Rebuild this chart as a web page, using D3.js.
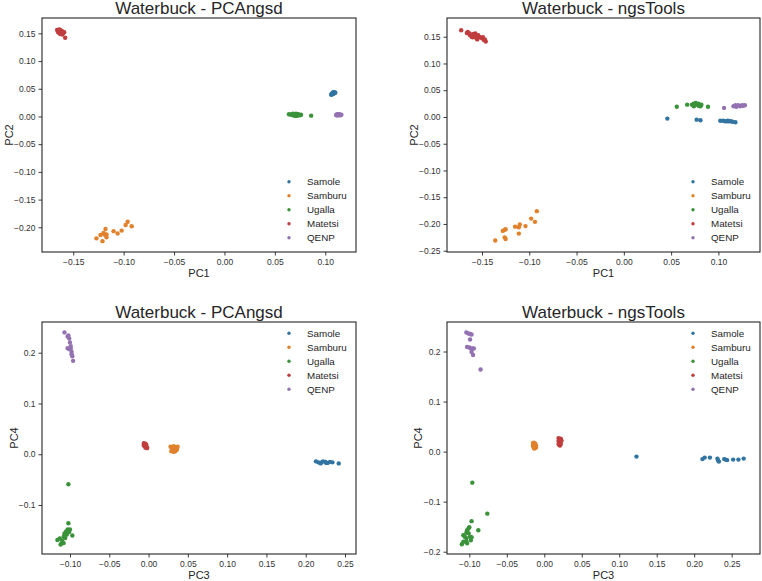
<!DOCTYPE html>
<html>
<head>
<meta charset="utf-8">
<script src="https://cdnjs.cloudflare.com/ajax/libs/d3/7.8.5/d3.min.js"></script>
<style>
  body { margin: 0; background: #fff; }
  text { font-family: "Liberation Sans", Arial, sans-serif; }
</style>
</head>
<body>
<div class="visualization"></div>
<script>
'use strict';

// populations, in legend order, and their colours
var populations = ['Samole', 'Samburu', 'Ugalla', 'Matetsi', 'QENP'];
var popColors   = ['#3274a1', '#e1812c', '#3a923a', '#c03d3e', '#9372b2'];

// PCAngsd, PC1 vs PC2
var pcangsd12Samole  = [[0.106,0.039],[0.107,0.041],[0.108,0.043],[0.109,0.044],[0.107,0.040],[0.108,0.041],[0.109,0.042],[0.106,0.040],[0.108,0.044],[0.110,0.043],[0.107,0.042]];
var pcangsd12Samburu = [[-0.127,-0.220],[-0.123,-0.214],[-0.121,-0.225],[-0.120,-0.210],[-0.118,-0.203],[-0.117,-0.218],[-0.117,-0.213],[-0.119,-0.213],[-0.110,-0.207],[-0.106,-0.211],[-0.102,-0.206],[-0.098,-0.196],[-0.096,-0.190],[-0.092,-0.198]];
var pcangsd12Ugalla  = [[0.064,0.004],[0.066,0.003],[0.067,0.004],[0.068,0.002],[0.069,0.004],[0.070,0.001],[0.070,0.003],[0.071,0.005],[0.072,0.002],[0.073,0.004],[0.074,0.003],[0.075,0.002],[0.076,0.003],[0.068,0.005],[0.072,0.001],[0.086,0.0015]];
var pcangsd12Matetsi = [[-0.166,0.156],[-0.165,0.154],[-0.164,0.157],[-0.163,0.153],[-0.162,0.155],[-0.164,0.151],[-0.162,0.152],[-0.161,0.154],[-0.163,0.149],[-0.161,0.148],[-0.165,0.152],[-0.160,0.150],[-0.159,0.152],[-0.163,0.156],[-0.158,0.142]];
var pcangsd12Qenp    = [[0.111,0.003],[0.112,0.002],[0.113,0.004],[0.114,0.003],[0.112,0.004],[0.115,0.002],[0.113,0.002],[0.111,0.002],[0.114,0.004],[0.116,0.003]];

// ngsTools, PC1 vs PC2
var ngstools12Samole  = [[0.046,-0.003],[0.077,-0.005],[0.081,-0.006],[0.102,-0.007],[0.105,-0.007],[0.107,-0.008],[0.109,-0.008],[0.111,-0.008],[0.113,-0.008],[0.115,-0.009],[0.118,-0.010],[0.110,-0.007]];
var ngstools12Samburu = [[-0.136,-0.231],[-0.128,-0.213],[-0.126,-0.211],[-0.125,-0.210],[-0.126,-0.225],[-0.125,-0.228],[-0.115,-0.205],[-0.111,-0.206],[-0.110,-0.201],[-0.111,-0.218],[-0.104,-0.204],[-0.098,-0.190],[-0.094,-0.196],[-0.092,-0.176]];
var ngstools12Ugalla  = [[0.056,0.019],[0.067,0.023],[0.072,0.023],[0.074,0.025],[0.075,0.022],[0.077,0.024],[0.079,0.025],[0.081,0.020],[0.082,0.023],[0.074,0.020],[0.079,0.021],[0.076,0.026],[0.089,0.019]];
var ngstools12Matetsi = [[-0.172,0.162],[-0.166,0.157],[-0.165,0.159],[-0.163,0.156],[-0.163,0.153],[-0.161,0.150],[-0.159,0.155],[-0.157,0.156],[-0.156,0.151],[-0.155,0.145],[-0.154,0.153],[-0.152,0.149],[-0.150,0.147],[-0.149,0.149],[-0.148,0.144],[-0.146,0.141],[-0.147,0.145],[-0.160,0.149],[-0.156,0.147]];
var ngstools12Qenp    = [[0.106,0.017],[0.116,0.020],[0.118,0.022],[0.119,0.020],[0.121,0.022],[0.123,0.020],[0.125,0.022],[0.126,0.021],[0.128,0.022],[0.119,0.019]];

// PCAngsd, PC3 vs PC4
var pcangsd34Samole  = [[0.213,-0.014],[0.216,-0.016],[0.219,-0.018],[0.222,-0.014],[0.225,-0.015],[0.228,-0.017],[0.231,-0.015],[0.234,-0.016],[0.220,-0.016],[0.226,-0.017],[0.242,-0.018]];
var pcangsd34Samburu = [[0.028,0.015],[0.030,0.013],[0.032,0.016],[0.034,0.014],[0.036,0.012],[0.031,0.010],[0.033,0.008],[0.035,0.010],[0.029,0.006],[0.032,0.005],[0.037,0.015],[0.030,0.011],[0.034,0.006],[0.036,0.009],[0.033,0.013]];
var pcangsd34Ugalla  = [[-0.116,-0.169],[-0.113,-0.166],[-0.111,-0.176],[-0.110,-0.170],[-0.108,-0.162],[-0.108,-0.175],[-0.107,-0.156],[-0.106,-0.159],[-0.105,-0.152],[-0.104,-0.158],[-0.103,-0.148],[-0.102,-0.136],[-0.101,-0.153],[-0.100,-0.148],[-0.097,-0.160],[-0.112,-0.178],[-0.106,-0.165],[-0.102,-0.059]];
var pcangsd34Matetsi = [[-0.006,0.022],[-0.005,0.020],[-0.004,0.018],[-0.006,0.017],[-0.003,0.015],[-0.004,0.013],[-0.002,0.014],[-0.005,0.016],[-0.003,0.019],[-0.006,0.019],[-0.002,0.012],[-0.004,0.021]];
var pcangsd34Qenp    = [[-0.107,0.240],[-0.103,0.232],[-0.102,0.234],[-0.101,0.228],[-0.100,0.220],[-0.099,0.213],[-0.103,0.209],[-0.101,0.207],[-0.099,0.208],[-0.098,0.202],[-0.098,0.197],[-0.097,0.193],[-0.096,0.184]];

// ngsTools, PC3 vs PC4
var ngstools34Samole  = [[0.123,-0.010],[0.211,-0.015],[0.214,-0.012],[0.221,-0.012],[0.231,-0.014],[0.232,-0.018],[0.242,-0.016],[0.244,-0.017],[0.252,-0.016],[0.259,-0.016],[0.266,-0.014],[0.240,-0.015],[0.233,-0.020]];
var ngstools34Samburu = [[-0.015,0.017],[-0.014,0.015],[-0.013,0.013],[-0.015,0.011],[-0.012,0.009],[-0.014,0.007],[-0.013,0.010],[-0.011,0.012],[-0.012,0.016],[-0.014,0.018],[-0.011,0.008],[-0.013,0.006],[-0.015,0.014]];
var ngstools34Ugalla  = [[-0.110,-0.185],[-0.108,-0.167],[-0.106,-0.170],[-0.104,-0.162],[-0.104,-0.173],[-0.103,-0.157],[-0.101,-0.163],[-0.100,-0.151],[-0.099,-0.170],[-0.098,-0.177],[-0.097,-0.171],[-0.104,-0.180],[-0.103,-0.183],[-0.108,-0.180],[-0.101,-0.153],[-0.097,-0.139],[-0.088,-0.157],[-0.076,-0.124],[-0.096,-0.062]];
var ngstools34Matetsi = [[0.019,0.027],[0.020,0.025],[0.021,0.023],[0.022,0.026],[0.019,0.021],[0.020,0.019],[0.022,0.020],[0.021,0.017],[0.019,0.015],[0.020,0.013],[0.022,0.015],[0.021,0.012],[0.023,0.022]];
var ngstools34Qenp    = [[-0.104,0.238],[-0.101,0.236],[-0.099,0.235],[-0.097,0.234],[-0.099,0.224],[-0.103,0.209],[-0.100,0.208],[-0.098,0.206],[-0.096,0.206],[-0.094,0.206],[-0.097,0.199],[-0.095,0.193],[-0.085,0.164]];

// tick values
var ticksPC12x     = [-0.15, -0.10, -0.05, 0.00, 0.05, 0.10];
var ticksPCAngsd2y = [-0.20, -0.15, -0.10, -0.05, 0.00, 0.05, 0.10, 0.15];
var ticksNgsTools2y = [-0.25, -0.20, -0.15, -0.10, -0.05, 0.00, 0.05, 0.10, 0.15];
var ticksPC34x     = [-0.10, -0.05, 0.00, 0.05, 0.10, 0.15, 0.20, 0.25];
var ticksPCAngsd4y = [-0.1, 0.0, 0.1, 0.2];
var ticksNgsTools4y = [-0.2, -0.1, 0.0, 0.1, 0.2];

var panels = [
  { title: 'Waterbuck - PCAngsd', xLabel: 'PC1', yLabel: 'PC2',
    box: [42, 18, 356, 252], xDomain: [-0.181, 0.1305], yDomain: [-0.2446, 0.1777],
    xTicks: ticksPC12x, yTicks: ticksPCAngsd2y, yFmt: '.2f', yLabelX: 13, legendTop: false,
    series: [pcangsd12Samole, pcangsd12Samburu, pcangsd12Ugalla, pcangsd12Matetsi, pcangsd12Qenp] },
  { title: 'Waterbuck - ngsTools', xLabel: 'PC1', yLabel: 'PC2',
    box: [447, 18, 760, 252], xDomain: [-0.187, 0.144], yDomain: [-0.2524, 0.185],
    xTicks: ticksPC12x, yTicks: ticksNgsTools2y, yFmt: '.2f', yLabelX: 418, legendTop: false,
    series: [ngstools12Samole, ngstools12Samburu, ngstools12Ugalla, ngstools12Matetsi, ngstools12Qenp] },
  { title: 'Waterbuck - PCAngsd', xLabel: 'PC3', yLabel: 'PC4',
    box: [42, 322, 356, 554], xDomain: [-0.1356, 0.264], yDomain: [-0.1965, 0.2605],
    xTicks: ticksPC34x, yTicks: ticksPCAngsd4y, yFmt: '.1f', yLabelX: 18, legendTop: true,
    series: [pcangsd34Samole, pcangsd34Samburu, pcangsd34Ugalla, pcangsd34Matetsi, pcangsd34Qenp] },
  { title: 'Waterbuck - ngsTools', xLabel: 'PC3', yLabel: 'PC4',
    box: [447, 322, 760, 554], xDomain: [-0.1298, 0.2878], yDomain: [-0.2046, 0.259],
    xTicks: ticksPC34x, yTicks: ticksNgsTools4y, yFmt: '.1f', yLabelX: 422, legendTop: true,
    series: [ngstools34Samole, ngstools34Samburu, ngstools34Ugalla, ngstools34Matetsi, ngstools34Qenp] }
];

var ink = '#262626';

var svg = d3.select('.visualization')
  .append('svg')
  .attr('width', 762)
  .attr('height', 581);

panels.forEach(function(p){
  var left = p.box[0], top = p.box[1], right = p.box[2], bottom = p.box[3];

  var x = d3.scaleLinear().domain(p.xDomain).range([left, right]);
  var y = d3.scaleLinear().domain(p.yDomain).range([bottom, top]);

  var g = svg.append('g');

  // points, one group per population
  p.series.forEach(function(pts, i){
    g.append('g').selectAll('circle')
      .data(pts)
      .enter().append('circle')
      .attr('cx', function(d){ return x(d[0]); })
      .attr('cy', function(d){ return y(d[1]); })
      .attr('r', 2.2)
      .attr('fill', popColors[i]);
  });

  // axes
  var xAxis = g.append('g')
    .attr('transform', 'translate(0,' + bottom + ')')
    .call(d3.axisBottom(x).tickValues(p.xTicks).tickFormat(d3.format('.2f'))
      .tickSize(3.5).tickPadding(3).tickSizeOuter(0));
  var yAxis = g.append('g')
    .attr('transform', 'translate(' + left + ',0)')
    .call(d3.axisLeft(y).tickValues(p.yTicks).tickFormat(d3.format(p.yFmt))
      .tickSize(3.5).tickPadding(3).tickSizeOuter(0));

  [xAxis, yAxis].forEach(function(a){
    a.select('.domain').remove();
    a.selectAll('line').attr('stroke', ink).attr('stroke-width', 0.9);
    a.selectAll('text').attr('fill', '#333').style('font-size', '8.5px')
      .style('font-family', '"Liberation Sans", Arial, sans-serif');
  });

  // frame
  g.append('rect')
    .attr('x', left).attr('y', top)
    .attr('width', right - left).attr('height', bottom - top)
    .attr('fill', 'none')
    .attr('stroke', ink)
    .attr('stroke-width', 1.1);

  // title and labels
  g.append('text')
    .attr('x', (left + right) / 2)
    .attr('y', top - 4)
    .attr('text-anchor', 'middle')
    .attr('fill', ink)
    .style('font-size', '17px')
    .text(p.title);

  g.append('text')
    .attr('x', (left + right) / 2)
    .attr('y', bottom + 25)
    .attr('text-anchor', 'middle')
    .attr('fill', ink)
    .style('font-size', '11px')
    .text(p.xLabel);

  g.append('text')
    .attr('transform', 'translate(' + p.yLabelX + ',' + ((top + bottom) / 2) + ') rotate(-90)')
    .attr('text-anchor', 'middle')
    .attr('fill', ink)
    .style('font-size', '11px')
    .text(p.yLabel);

  // legend
  var legY0 = p.legendTop ? top + 11.3 : bottom - 14.3 - 4 * 14;
  var leg = g.append('g').selectAll('g')
    .data(populations)
    .enter().append('g')
    .attr('transform', function(d, i){ return 'translate(' + (right - 67) + ',' + (legY0 + i * 14) + ')'; });

  leg.append('circle')
    .attr('r', 1.7)
    .attr('fill', function(d, i){ return popColors[i]; });

  leg.append('text')
    .attr('x', 18)
    .attr('y', 3.5)
    .attr('fill', ink)
    .style('font-size', '9.8px')
    .text(function(d){ return d; });
});
</script>
</body>
</html>
